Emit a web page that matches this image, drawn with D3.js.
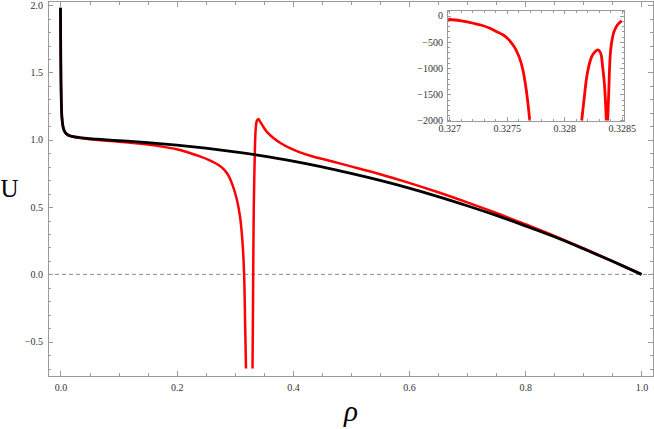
<!DOCTYPE html>
<html>
<head>
<meta charset="utf-8">
<script src="https://cdn.jsdelivr.net/npm/d3@7"></script>
<style>
  html, body { margin: 0; padding: 0; background: #fff; }
  svg { display: block; }
</style>
</head>
<body>
<div id="chart"></div>
<script>
// main panel ticks
const xMajorTicks = [0, 0.2, 0.4, 0.6, 0.8, 1.0];
const xTickLabels = ["0.0", "0.2", "0.4", "0.6", "0.8", "1.0"];
const yMajorTicks = [-0.5, 0, 0.5, 1.0, 1.5, 2.0];
const yTickLabels = ["\u22120.5", "0.0", "0.5", "1.0", "1.5", "2.0"];

// black curve
const blackRho = [0, 0.0005, 0.001, 0.002, 0.003, 0.005, 0.008, 0.013, 0.02, 0.034, 0.05, 0.1, 0.15, 0.2,
  0.25, 0.3, 0.35, 0.4, 0.45, 0.5, 0.55, 0.6, 0.65, 0.7, 0.75, 0.8, 0.85, 0.9, 0.95, 1.0];
const blackU = [1.98, 1.6, 1.38, 1.2, 1.14, 1.085, 1.055, 1.035, 1.025, 1.015, 1.008, 0.994, 0.979, 0.96,
  0.937, 0.91, 0.879, 0.841, 0.798, 0.75, 0.698, 0.641, 0.578, 0.51, 0.438, 0.36, 0.279, 0.19, 0.097, 0.0];

// red curve, null = clipped part of the spike
const redRho = [0, 0.0005, 0.001, 0.002, 0.003, 0.005, 0.008, 0.013, 0.02, 0.034, 0.05, 0.1, 0.125, 0.15, 0.175,
  0.2, 0.22, 0.24, 0.255, 0.272, 0.282, 0.289, 0.296, 0.303, 0.309, 0.313, 0.316, 0.3177, 0.3193,
  0.325,
  0.3305, 0.3314, 0.332, 0.3327, 0.3336, 0.3346, 0.336, 0.3378, 0.3405, 0.3435, 0.349, 0.356, 0.366,
  0.38, 0.395, 0.41, 0.43, 0.47, 0.5, 0.55, 0.6, 0.65, 0.7, 0.75, 0.8, 0.85, 0.9, 0.95, 1.0];
const redU = [1.98, 1.6, 1.38, 1.2, 1.14, 1.085, 1.055, 1.034, 1.023, 1.012, 1.004, 0.986, 0.976, 0.964, 0.949,
  0.929, 0.905, 0.876, 0.85, 0.812, 0.777, 0.735, 0.665, 0.565, 0.43, 0.255, 0.007, -0.35, -0.70,
  null,
  -0.70, -0.2, 0.2, 0.5, 0.725, 0.93, 1.08, 1.14, 1.154, 1.135, 1.097, 1.055, 1.015,
  0.972, 0.937, 0.91, 0.881, 0.836, 0.802, 0.744, 0.68, 0.61, 0.535, 0.456, 0.372, 0.286, 0.194, 0.099, 0.0];

// inset panel
const insetXTicks = [0.327, 0.3275, 0.328, 0.3285];
const insetXLabels = ["0.327", "0.3275", "0.328", "0.3285"];
const insetYTicks = [0, -500, -1000, -1500, -2000];
const insetYLabels = ["0", "\u2212500", "\u22121000", "\u22121500", "\u22122000"];

const insetRho = [0.32699, 0.327093, 0.327209, 0.327282, 0.327354, 0.3274, 0.32747, 0.32751, 0.32755, 0.32758,
  0.32761, 0.32764, 0.32767, 0.3277,
  0.3279,
  0.328152, 0.328172, 0.328201, 0.328239, 0.328268, 0.328294, 0.328317, 0.328334, 0.328349, 0.328361, 0.328366,
  0.32837,
  0.328378, 0.328387, 0.328395, 0.328404, 0.328416, 0.328433, 0.328462, 0.3285];
const insetU = [-67, -94, -143, -181, -239, -290, -367, -440, -545, -650,
  -800, -1030, -1420, -2000,
  null,
  -2000, -1608, -1098, -781, -686, -653, -716, -972, -1289, -1736, -2000,
  null,
  -2000, -1481, -972, -653, -462, -303, -176, -99];

class Chart {
  constructor() {
    const attrs = {
      svgWidth: 654,
      svgHeight: 429,
      container: "#chart",
      defaultFont: "'Liberation Serif', 'Times New Roman', serif",
      frameColor: "#9a9a9a",
      labelColor: "#333",
      plotLeft: 48,
      plotRight: 653,
      plotTop: 1.5,
      plotBottom: 376,
      xDomain: [-0.0215, 1.0198],
      yDomain: [-0.755, 2.027],
      insetLeft: 447,
      insetRight: 624,
      insetTop: 10,
      insetBottom: 121,
      insetXDomain: [0.32698, 0.32852],
      insetYDomain: [-2010, 110],
    };
    this.getState = () => attrs;
    this.setState = (d) => Object.assign(attrs, d);
  }

  render() {
    this.drawSvg();
    this.drawMainPlot();
    this.drawInset();
    this.drawAxisTitles();
    return this;
  }

  drawSvg() {
    const { container, svgWidth, svgHeight, defaultFont } = this.getState();
    const svg = d3.select(container).append("svg")
      .attr("width", svgWidth)
      .attr("height", svgHeight)
      .attr("font-family", defaultFont);
    svg.append("rect").attr("width", svgWidth).attr("height", svgHeight).attr("fill", "#fff");
    this.setState({ svg });
  }

  // frame with inward ticks on all four sides, labels on bottom and left
  drawFrame(g, x, y, o) {
    const { frameColor, labelColor, defaultFont } = this.getState();
    const [x0, x1] = x.range();
    const [y0, y1] = y.range();
    const sides = [
      { make: () => d3.axisBottom(x), pos: `translate(0,${y0})`, major: o.xTicks, minor: o.xMinor, labels: o.xLabels, pad: o.xPad },
      { make: () => d3.axisTop(x), pos: `translate(0,${y1})`, major: o.xTicks, minor: o.xMinor },
      { make: () => d3.axisLeft(y), pos: `translate(${x0},0)`, major: o.yTicks, minor: o.yMinor, labels: o.yLabels, pad: o.yPad },
      { make: () => d3.axisRight(y), pos: `translate(${x1},0)`, major: o.yTicks, minor: o.yMinor },
    ];
    sides.forEach(s => {
      g.append("g").attr("transform", s.pos)
        .call(s.make().tickValues(s.minor).tickSize(-o.minorLen).tickFormat(""))
        .call(a => a.select(".domain").remove());
      const major = g.append("g").attr("transform", s.pos)
        .call(s.make().tickValues(s.major).tickSize(-o.majorLen).tickPadding(s.pad || 0)
          .tickFormat(d => s.labels ? s.labels[s.major.indexOf(d)] : ""))
        .call(a => a.select(".domain").remove())
        .attr("font-family", defaultFont)
        .attr("font-size", o.fontSize);
      major.selectAll("text").attr("fill", labelColor);
    });
    g.selectAll(".tick line").attr("stroke", frameColor).attr("shape-rendering", "crispEdges");
    g.append("rect")
      .attr("x", x0).attr("y", y1)
      .attr("width", x1 - x0).attr("height", y0 - y1)
      .attr("fill", "none")
      .attr("stroke", frameColor)
      .attr("shape-rendering", "crispEdges");
  }

  drawMainPlot() {
    const { svg, plotLeft, plotRight, plotTop, plotBottom, xDomain, yDomain } = this.getState();
    const x = d3.scaleLinear().domain(xDomain).range([plotLeft, plotRight]);
    const y = d3.scaleLinear().domain(yDomain).range([plotBottom, plotTop]);
    const g = svg.append("g").attr("class", "main");

    g.append("clipPath").attr("id", "mainClip")
      .append("rect")
      .attr("x", plotLeft).attr("y", plotTop)
      .attr("width", plotRight - plotLeft).attr("height", plotBottom - plotTop);

    // dashed zero line
    g.append("line")
      .attr("x1", plotLeft).attr("x2", plotRight)
      .attr("y1", y(0)).attr("y2", y(0))
      .attr("stroke", "#8c8c8c")
      .attr("stroke-dasharray", "4,3");

    const line = d3.line()
      .defined(d => d[1] !== null)
      .x(d => x(d[0]))
      .y(d => y(d[1]))
      .curve(d3.curveCatmullRom.alpha(0.5));

    const curves = g.append("g").attr("clip-path", "url(#mainClip)");
    curves.append("path")
      .datum(redRho.map((r, i) => [r, redU[i]]))
      .attr("d", line)
      .attr("fill", "none")
      .attr("stroke", "#ff0000")
      .attr("stroke-width", 2.5);
    curves.append("path")
      .datum(blackRho.map((r, i) => [r, blackU[i]]))
      .attr("d", line)
      .attr("fill", "none")
      .attr("stroke", "#000")
      .attr("stroke-width", 2.8);

    this.drawFrame(g.append("g"), x, y, {
      xTicks: xMajorTicks,
      xLabels: xTickLabels,
      xMinor: d3.range(0, 21).map(i => i / 20),
      yTicks: yMajorTicks,
      yLabels: yTickLabels,
      yMinor: d3.range(-7, 21).map(i => i / 10),
      majorLen: 5,
      minorLen: 3,
      xPad: 8,
      yPad: 5,
      fontSize: 10,
    });
  }

  drawInset() {
    const { svg, insetLeft, insetRight, insetTop, insetBottom, insetXDomain, insetYDomain } = this.getState();
    const x = d3.scaleLinear().domain(insetXDomain).range([insetLeft, insetRight]);
    const y = d3.scaleLinear().domain(insetYDomain).range([insetBottom, insetTop]);
    const g = svg.append("g").attr("class", "inset");

    g.append("rect")
      .attr("x", insetLeft).attr("y", insetTop)
      .attr("width", insetRight - insetLeft).attr("height", insetBottom - insetTop)
      .attr("fill", "#fff");

    g.append("clipPath").attr("id", "insetClip")
      .append("rect")
      .attr("x", insetLeft).attr("y", insetTop)
      .attr("width", insetRight - insetLeft).attr("height", insetBottom - insetTop);

    const line = d3.line()
      .defined(d => d[1] !== null)
      .x(d => x(d[0]))
      .y(d => y(d[1]))
      .curve(d3.curveCatmullRom.alpha(0.5));

    g.append("path")
      .datum(insetRho.map((r, i) => [r, insetU[i]]))
      .attr("clip-path", "url(#insetClip)")
      .attr("d", line)
      .attr("fill", "none")
      .attr("stroke", "#ff0000")
      .attr("stroke-width", 2.8);

    this.drawFrame(g.append("g"), x, y, {
      xTicks: insetXTicks,
      xLabels: insetXLabels,
      xMinor: d3.range(3270, 3286).map(i => i / 10000),
      yTicks: insetYTicks,
      yLabels: insetYLabels,
      yMinor: d3.range(-20, 2).map(i => i * 100),
      majorLen: 4,
      minorLen: 2.5,
      xPad: 4,
      yPad: 4,
      fontSize: 10,
    });
  }

  drawAxisTitles() {
    const { svg, defaultFont } = this.getState();
    svg.append("text")
      .attr("x", 9.5).attr("y", 197)
      .attr("text-anchor", "middle")
      .attr("font-family", defaultFont)
      .attr("font-size", 25)
      .text("U");
    svg.append("text")
      .attr("x", 351).attr("y", 421)
      .attr("text-anchor", "middle")
      .attr("font-family", defaultFont)
      .attr("font-size", 29)
      .attr("font-style", "italic")
      .text("\u03c1");
  }
}

new Chart().render();
</script>
</body>
</html>
